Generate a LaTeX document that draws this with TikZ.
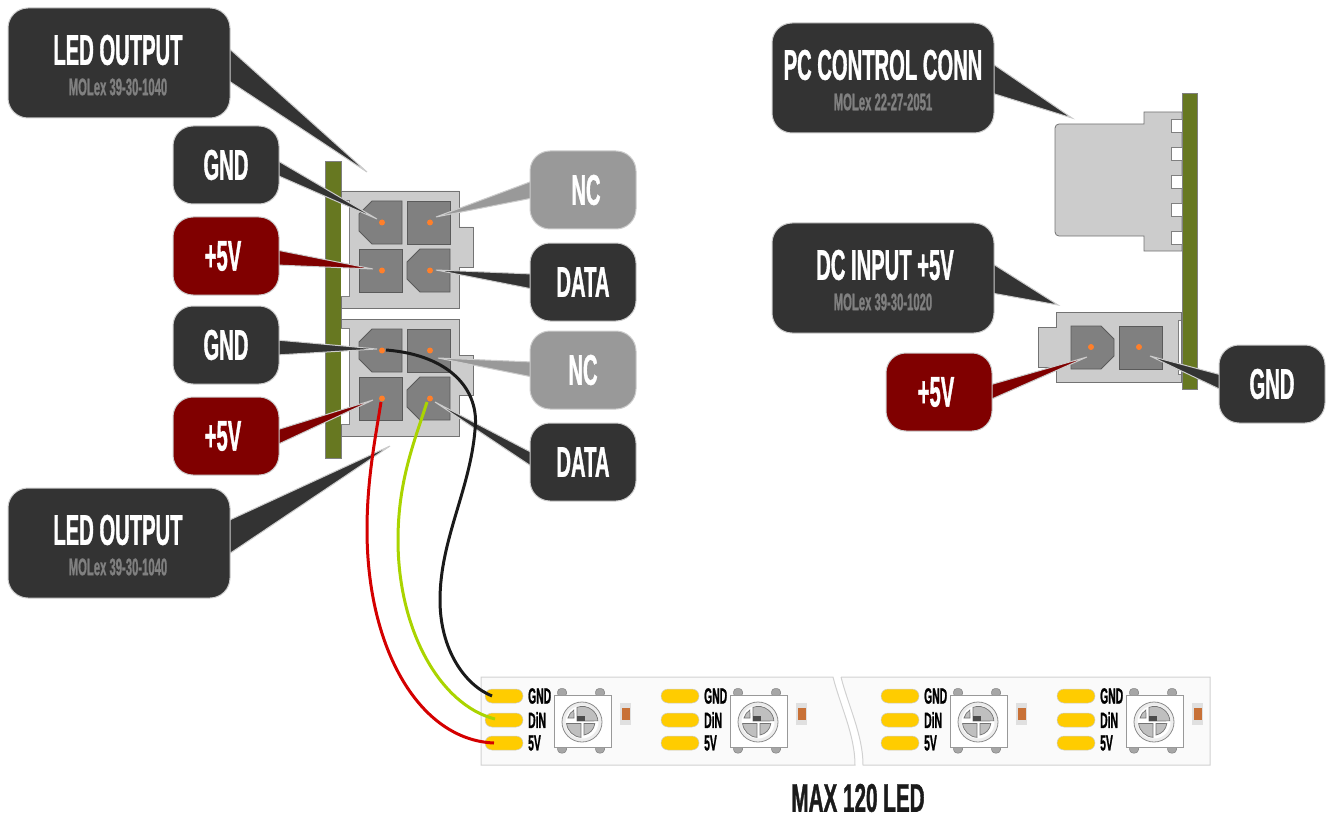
\documentclass[tikz,border=0pt]{standalone}
\usepackage{fontspec}
\usepackage{tikz}
\usetikzlibrary{calc}
\setmainfont{Liberation Sans}[FakeStretch=0.47, BoldFeatures={FakeBold=0.8}]
\definecolor{darkbox}{HTML}{333333}
\definecolor{redbox}{HTML}{800000}
\definecolor{greybox}{HTML}{999999}
\definecolor{edgegrey}{HTML}{CCCCCC}
\definecolor{boardgreen}{HTML}{677821}
\definecolor{pingrey}{HTML}{808080}
\definecolor{dotorange}{HTML}{FF7F2A}
\definecolor{padyellow}{HTML}{FFCC00}
\definecolor{wiregreen}{HTML}{AAD400}
\definecolor{wirered}{HTML}{D40000}
\definecolor{wireblack}{HTML}{1A1A1A}
\definecolor{resbrown}{HTML}{C87137}
\pgfdeclarelayer{parts}
\pgfdeclarelayer{tails}
\pgfsetlayers{parts,tails,main}

\begin{document}
\begin{tikzpicture}[
    x=1pt, y=-1pt,
    callout/.style={rounded corners=20pt, draw=edgegrey, line width=1pt, text=white, align=center, font=\bfseries\fontsize{43}{43}\selectfont},
    bigbox/.style={callout, minimum width=222pt, minimum height=110pt},
    smallbox/.style={callout, minimum width=106pt, minimum height=78pt},
    biglabel/.style={text=white, font=\bfseries\fontsize{43}{43}\selectfont},
    sublabel/.style={font=\bfseries\fontsize{24}{24}\selectfont, text=pingrey},
    board/.style={draw=pingrey, line width=0.8pt, fill=boardgreen},
    housing/.style={draw=pingrey!90!black, line width=0.8pt, fill=edgegrey},
    slot/.style={draw=pingrey, line width=0.8pt, fill=white},
    pin/.style={draw=pingrey!70!black, line width=0.8pt, fill=pingrey},
    tail/.style={draw=edgegrey, line width=1pt, fill=#1},
    dot/.style={circle, fill=dotorange, inner sep=0pt, minimum size=6pt},
    wire/.style={line width=3pt, draw=#1},
    pad/.style={rounded corners=7pt, fill=padyellow, draw=edgegrey, line width=0.5pt},
    striplabel/.style={anchor=west, inner sep=0pt, text=black, font=\bfseries\fontsize{22}{22}\selectfont},
    strip/.style={draw=edgegrey!90, line width=1pt, fill=black!2},
    sector/.style={draw=black!55, line width=0.7pt, fill=black!25}
]
    \useasboundingbox (0,0) rectangle (1333,821);

    % left boards and connectors
    \begin{pgfonlayer}{parts}
    \draw[board] (325.5,161.5) rectangle (341,458);
    \foreach \dy in {0,128} {
        \begin{scope}[yshift=-\dy pt]
        \draw[housing] (341,191) -- (459,191) -- (459,227) -- (473,227) -- (473,267) -- (459,267) -- (459,308) -- (341,308) -- cycle;
        \draw[slot] (341,200) -- (349,200) -- (349,296) -- (341,296);
        \draw[pin] (372,201) -- (402,201) -- (402,244) -- (372,244) -- (359,231) -- (359,214) -- cycle;
        \draw[pin] (407,201) rectangle (450,244);
        \draw[pin] (359,249) rectangle (402,292);
        \draw[pin] (420,249) -- (450,249) -- (450,292) -- (420,292) -- (407,279) -- (407,262) -- cycle;
        \foreach \px/\py in {382/222.5,430/222.5,382/270.5,430/270.5}
            \node[dot] at (\px,\py) {};
        \end{scope}
    }

    % right board and connectors
    \draw[board] (1182,93.5) rectangle (1197,389);
    \draw[housing] (1144,112) -- (1182,112) -- (1182,251) -- (1144,251) -- (1144,236) -- (1060,236) [rounded corners=4pt] -- (1055,236) -- (1055,124) [sharp corners] -- (1144,124) -- cycle;
    \foreach \sy in {119,147,175,203,231}
        \draw[slot] (1182,\sy) -- (1171,\sy) -- (1171,\sy+13) -- (1182,\sy+13);
    \draw[housing] (1056,312) -- (1181,312) -- (1181,382) -- (1056,382) -- (1056,367) -- (1038,367) -- (1038,327) -- (1056,327) -- cycle;
    \draw[slot] (1181,320) -- (1178,320) -- (1178,374) -- (1181,374);
    \draw[pin] (1071,326) -- (1101,326) -- (1114,339) -- (1114,356) -- (1101,369) -- (1071,369) -- cycle;
    \draw[pin] (1119,326) rectangle (1162,369);
    \node[dot] at (1091,347) {};
    \node[dot] at (1139,347) {};

    % led strip
    \draw[strip] (481,677) -- (833,677) .. controls (840,705) and (855,735) .. (855,765) -- (481,765) -- cycle;
    \draw[strip] (841,677) -- (1210,677) -- (1210,765) -- (863,765) .. controls (863,735) and (848,705) .. (841,677);
    \foreach \dx in {0,176,396,572} {
        \begin{scope}[xshift=\dx pt]
        \foreach \py/\txt in {696/GND,720/DiN,743/5V} {
            \draw[pad] (485,\py-7) rectangle (523,\py+7);
            \node[striplabel] at (528,\py) {\txt};
        }
        \foreach \tx/\ty in {562/693,600/693,562/749,600/749}
            \draw[rounded corners=3.5pt, fill=black!35, draw=black!50, line width=0.5pt] (\tx-4.5,\ty-4.5) rectangle (\tx+4.5,\ty+4);
        \draw[fill=white, draw=black!40, line width=0.8pt] (554,695) rectangle (611,747);
        \begin{scope}[shift={(582,722)}]
            \draw[fill=black!7, draw=black!45, line width=0.8pt] (0,0) circle (20);
            \fill[white] (0,0) circle (16.5);
            \draw[sector] (-5,-1) -- (-5,-14.7) arc[start angle=-110, end angle=-4, radius=15.6] -- cycle;
            \draw[sector] (-1,1.5) -- (-15.4,1.5) arc[start angle=174, end angle=94, radius=15.5] -- cycle;
            \draw[sector] (2,1.5) -- (2,13) arc[start angle=80, end angle=6, radius=13.2] -- cycle;
            \draw[sector] (-8,-4) -- (-14,-4) arc[start angle=196, end angle=236, radius=14.5] -- cycle;
            \fill[black!70] (-5,-6) rectangle (3,-1);
        \end{scope}
        \fill[black!12] (620,703) rectangle (631,725);
        \fill[resbrown] (621.5,708) rectangle (629.5,720);
        \end{scope}
    }
    \end{pgfonlayer}

    % callouts
    \node[bigbox, fill=darkbox] (ledTop) at (119,63) {};
    \node[yshift=13pt, xshift=-1pt, biglabel] at (ledTop) {LED OUTPUT};
    \node[yshift=-24pt, xshift=-1pt, sublabel] at (ledTop) {MOLex 39-30-1040};
    \node[bigbox, fill=darkbox] (ledBot) at (119,543) {};
    \node[yshift=13pt, xshift=-1pt, biglabel] at (ledBot) {LED OUTPUT};
    \node[yshift=-24pt, xshift=-1pt, sublabel] at (ledBot) {MOLex 39-30-1040};
    \node[bigbox, fill=darkbox] (pcConn) at (883,78) {};
    \node[yshift=13pt, biglabel] at (pcConn) {PC CONTROL CONN};
    \node[yshift=-24pt, sublabel] at (pcConn) {MOLex 22-27-2051};
    \node[bigbox, fill=darkbox] (dcIn) at (883,278) {};
    \node[yshift=13pt, xshift=2pt, biglabel] at (dcIn) {DC INPUT +5V};
    \node[yshift=-24pt, sublabel] at (dcIn) {MOLex 39-30-1020};

    \node[smallbox, fill=darkbox] (gndA) at (226,165) {GND};
    \node[smallbox, fill=redbox, text width=86pt] (vccA) at (226,256) {\hspace*{-6pt}+5V};
    \node[smallbox, fill=darkbox] (gndB) at (226,345) {GND};
    \node[smallbox, fill=redbox, text width=86pt] (vccB) at (226,436) {\hspace*{-6pt}+5V};
    \node[smallbox, fill=greybox, text width=86pt] (ncA) at (583,190) {\hspace*{6pt}NC};
    \node[smallbox, fill=darkbox] (dataA) at (583,282) {DATA};
    \node[smallbox, fill=greybox] (ncB) at (583,370) {NC};
    \node[smallbox, fill=darkbox] (dataB) at (583,462) {DATA};
    \node[smallbox, fill=redbox, text width=86pt] (vccC) at (939,392) {\hspace*{-6pt}+5V};
    \node[smallbox, fill=darkbox] (gndC) at (1272,384) {GND};

    % tail tips
    \coordinate (tipLedTop) at (367,172);
    \coordinate (tipLedBot) at (390,446);
    \coordinate (tipPc) at (1072,118);
    \coordinate (tipDc) at (1058,305);
    \coordinate (tipGndA) at (377,219);
    \coordinate (tipVccA) at (373,269);
    \coordinate (tipGndB) at (377,349);
    \coordinate (tipVccB) at (373,400);
    \coordinate (tipNcA) at (436,217);
    \coordinate (tipDataA) at (436,270);
    \coordinate (tipNcB) at (438,358);
    \coordinate (tipDataB) at (435,402);
    \coordinate (tipVccC) at (1087,357);
    \coordinate (tipGndC) at (1150,356);

    \begin{pgfonlayer}{tails}
    \foreach \src/\anc/\sx/\ya/\yb/\tip/\col in {
        ledTop/east/-3/-16/17/tipLedTop/darkbox,
        ledBot/east/-3/-22/12/tipLedBot/darkbox,
        pcConn/east/-3/-15/15/tipPc/darkbox,
        dcIn/east/-3/-15/15/tipDc/darkbox,
        gndA/east/-3/-5/10/tipGndA/darkbox,
        vccA/east/-3/-6/9/tipVccA/redbox,
        gndB/east/-3/-5/10/tipGndB/darkbox,
        vccB/east/-3/-6/9/tipVccB/redbox,
        ncA/west/3/-9/8/tipNcA/greybox,
        dataA/west/3/-8/7/tipDataA/darkbox,
        ncB/west/3/-8/7/tipNcB/greybox,
        dataB/west/3/-9/5/tipDataB/darkbox,
        vccC/east/-3/-7/8/tipVccC/redbox,
        gndC/west/3/-9/6/tipGndC/darkbox}
        \draw[tail=\col] ($(\src.\anc)+(\sx,\ya)$) -- (\tip) -- ($(\src.\anc)+(\sx,\yb)$) -- cycle;
    \end{pgfonlayer}

    % wires to the strip
    \coordinate (wireEndGnd) at (492,696);
    \coordinate (wireEndDin) at (495,719);
    \coordinate (wireEndVcc) at (494,743);
    \draw[wire=wireblack] (386,350) .. controls (450,355) and (480,390) .. (475,430) .. controls (470,490) and (440,540) .. (440,600) .. controls (440,650) and (465,685) .. (wireEndGnd);
    \draw[wire=wiregreen] (427,402) .. controls (415,440) and (398,480) .. (398,540) .. controls (398,630) and (440,705) .. (wireEndDin);
    \draw[wire=wirered] (381,402) .. controls (375,440) and (367,480) .. (367,530) .. controls (367,650) and (420,740) .. (wireEndVcc);

    \node[inner sep=0pt, xscale=1.1, transform shape, text=wireblack, font=\bfseries\fontsize{40}{40}\selectfont] (maxLed) at (858,798) {MAX 120 LED};
\end{tikzpicture}
\end{document}
